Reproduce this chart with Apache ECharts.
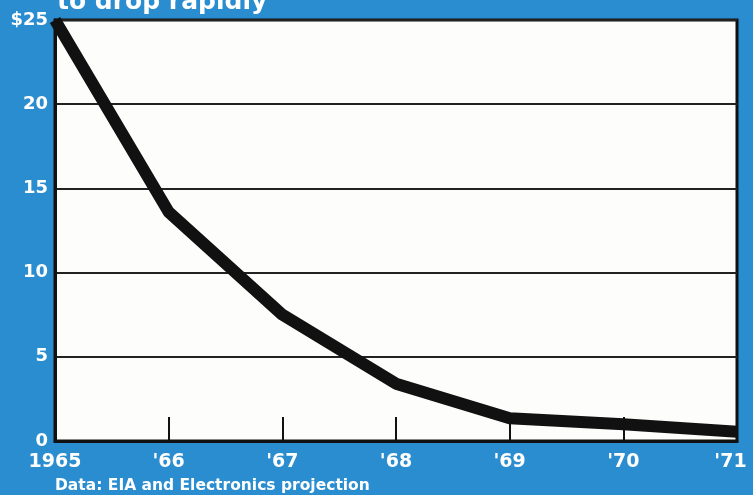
<!DOCTYPE html>
<html>
<head>
<meta charset="utf-8">
<script src="https://cdn.jsdelivr.net/npm/echarts@6/dist/echarts.min.js"></script>
<style>
html,body{margin:0;padding:0;background:#2a8dcf;}
#chart{width:753px;height:495px;}
</style>
</head>
<body>
<div id="chart"></div>
<script>
const years = ['1965', "'66", "'67", "'68", "'69", "'70", "'71"];
const prices = [25, 13.6, 7.5, 3.4, 1.35, 1.0, 0.55];
const yTicks = [0, 5, 10, 15, 20, 25];
const titleText = 'to drop rapidly';
const sourceText = 'Data: EIA and Electronics projection';

const FONT = 'DejaVu Sans, Verdana, sans-serif';
const chart = echarts.init(document.getElementById('chart'));
chart.setOption({
  backgroundColor: '#2a8dcf',
  animation: false,
  grid: {
    left: 55, right: 16, top: 20, bottom: 54,
    outerBoundsMode: 'none', containLabel: false,
    show: true, backgroundColor: '#fdfdfb', borderColor: '#111', borderWidth: 3
  },
  xAxis: {
    type: 'category',
    data: years,
    boundaryGap: false,
    axisLine: { show: true, lineStyle: { color: '#111', width: 3 } },
    axisTick: { show: true, inside: true, length: 24, interval: 0, lineStyle: { color: '#111', width: 2 } },
    axisLabel: {
      color: '#fff', fontWeight: 'bold', fontSize: 19,
      fontFamily: FONT, margin: 12, interval: 0, hideOverlap: false,
      formatter: (v, i) => i === years.length - 1 ? '{last|' + v + '}' : v,
      rich: {
        last: { color: '#fff', fontWeight: 'bold', fontSize: 19, fontFamily: FONT, padding: [0, 13, 0, 0] }
      }
    },
    splitLine: { show: false }
  },
  yAxis: {
    type: 'value',
    min: yTicks[0], max: yTicks[yTicks.length - 1], interval: 5,
    axisLine: { show: true, lineStyle: { color: '#111', width: 3 } },
    axisTick: { show: false },
    axisLabel: {
      color: '#fff', fontWeight: 'bold', fontSize: 18,
      fontFamily: FONT, margin: 7,
      formatter: v => v === 25 ? '$25' : String(v)
    },
    splitLine: { show: true, lineStyle: { color: '#222', width: 2 } }
  },
  series: [{
    type: 'line',
    data: prices,
    symbol: 'none',
    lineStyle: { color: '#111', width: 12, join: 'round' }
  }],
  graphic: [
    {
      type: 'text', left: 57, top: -10,
      style: {
        text: titleText, fill: '#fff', fontSize: 25, fontWeight: 'bold',
        fontFamily: FONT
      }
    },
    {
      type: 'text', left: 55, top: 478,
      style: {
        text: sourceText, fill: '#fff', fontSize: 15.5, fontWeight: 'bold',
        fontFamily: FONT
      }
    }
  ]
});
</script>
</body>
</html>
